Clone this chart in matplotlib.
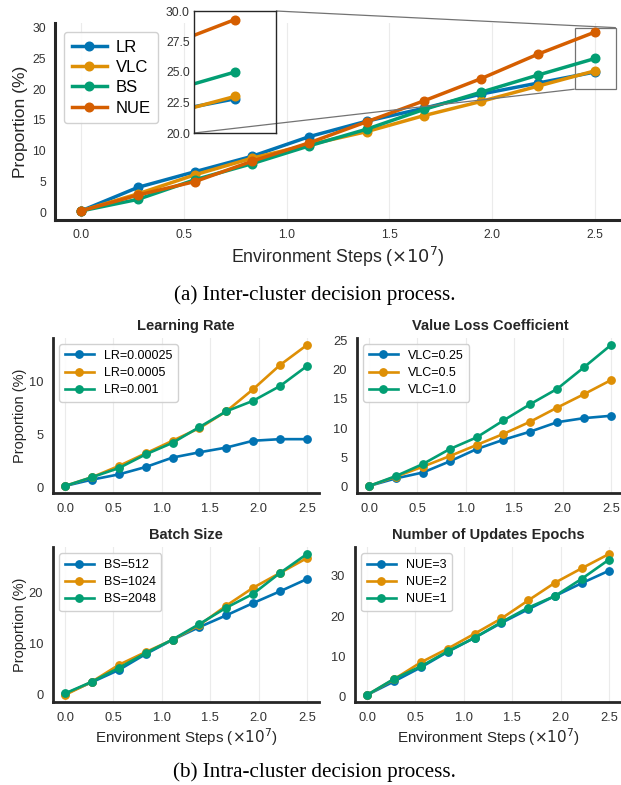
import matplotlib
matplotlib.use('Agg')
import matplotlib.pyplot as plt
import numpy as np
from mpl_toolkits.axes_grid1.inset_locator import mark_inset

plt.rcParams['font.family'] = ['Liberation Sans', 'DejaVu Sans']

# ---- data ----
steps = [0.0, 0.278, 0.556, 0.833, 1.111, 1.389, 1.667, 1.944, 2.222, 2.5]

# (a) inter-cluster
inter_lr  = [0.2, 4.05, 6.6, 9.1, 12.3, 14.8, 16.9, 19.2, 21.0, 22.8]
inter_vlc = [0.2, 3.0, 6.1, 8.8, 11.0, 13.1, 15.7, 18.0, 20.5, 23.0]
inter_bs  = [0.2, 2.1, 5.3, 7.9, 10.8, 13.5, 16.7, 19.5, 22.3, 25.0]
inter_nue = [0.2, 2.8, 5.0, 8.3, 11.3, 14.7, 18.1, 21.7, 25.7, 29.3]
inter_names = ['LR', 'VLC', 'BS', 'NUE']

# (b) intra-cluster
lr_labels = ['LR=0.00025', 'LR=0.0005', 'LR=0.001']
lr_vals = [
    [0.1, 0.7, 1.2, 1.9, 2.8, 3.3, 3.75, 4.4, 4.55, 4.55],
    [0.1, 0.93, 2.0, 3.2, 4.4, 5.6, 7.2, 9.3, 11.6, 13.5],
    [0.1, 0.93, 1.8, 3.1, 4.2, 5.7, 7.2, 8.2, 9.6, 11.5],
]
vlc_labels = ['VLC=0.25', 'VLC=0.5', 'VLC=1.0']
vlc_vals = [
    [0.1, 1.4, 2.4, 4.3, 6.4, 8.0, 9.4, 11.0, 11.7, 12.1],
    [0.1, 1.7, 3.4, 5.2, 7.1, 9.0, 11.1, 13.5, 15.8, 18.2],
    [0.1, 1.8, 3.85, 6.4, 8.4, 11.3, 14.1, 16.7, 20.4, 24.2],
]
bs_labels = ['BS=512', 'BS=1024', 'BS=2048']
bs_vals = [
    [0.2, 2.5, 4.9, 8.0, 10.8, 13.3, 15.6, 18.0, 20.3, 22.7],
    [0.0, 2.6, 5.9, 8.4, 10.8, 13.7, 17.5, 21.0, 23.9, 26.8],
    [0.3, 2.6, 5.3, 8.2, 10.85, 13.9, 17.1, 19.8, 23.9, 27.6],
]
nue_labels = ['NUE=3', 'NUE=2', 'NUE=1']
nue_vals = [
    [0.4, 3.75, 7.25, 11.1, 14.6, 18.3, 21.7, 25.0, 28.2, 31.25],
    [0.4, 4.3, 8.5, 11.9, 15.6, 19.4, 23.9, 28.3, 31.9, 35.4],
    [0.4, 4.4, 7.5, 11.25, 14.6, 18.5, 22.1, 25.0, 29.3, 34.0],
]

colors = ['#0173b2', '#de8f05', '#029e73', '#d55e00']
W, H = 621, 785


def px_axes(fig, x0, y0, x1, y1):
    # pixel box (from top-left) -> figure axes
    return fig.add_axes([x0 / W, 1 - y1 / H, (x1 - x0) / W, (y1 - y0) / H])


def style(ax, lw=2.0, fs=8.7, pad=6.5):
    for s in ['top', 'right']:
        ax.spines[s].set_visible(False)
    for s in ['left', 'bottom']:
        ax.spines[s].set_linewidth(lw)
        ax.spines[s].set_color('#262626')
    ax.grid(axis='x', color='#ebebeb', lw=0.8)
    ax.set_axisbelow(True)
    ax.tick_params(length=0, labelsize=fs, colors='#333333', pad=pad)
    ax.set_xticks([0.0, 0.5, 1.0, 1.5, 2.0, 2.5])


fig = plt.figure(figsize=(W / 100, H / 100), dpi=100)

# ---------------- (a) ----------------
ax = px_axes(fig, 55, 23, 621, 220)
inter = [inter_lr, inter_vlc, inter_bs, inter_nue]
for ys, name, c in zip(inter, inter_names, colors):
    ax.plot(steps, ys, '-o', color=c, lw=2.5, ms=6.2, label=name)
style(ax, lw=2.2, fs=8.7, pad=6.5)
ax.set_yticks([0, 5, 10, 15, 20, 25, 30])
ax.set_ylabel('Proportion (%)', fontsize=12.5, labelpad=3, color='#262626')
ax.set_xlabel(r'Environment Steps ($\times 10^7$)', fontsize=12.8, labelpad=3,
              color='#262626')
ax.legend(loc='upper left', bbox_to_anchor=(0.016, 0.954), borderaxespad=0,
          fontsize=12, handlelength=2.15, handletextpad=0.5,
          edgecolor='#cccccc', framealpha=0.9, borderpad=0.45,
          labelspacing=0.32)

axins = px_axes(fig, 194, 11, 276, 133)
for ys, c in zip(inter, colors):
    axins.plot(steps, ys, '-o', color=c, lw=2.5, ms=6.2)
axins.set_xlim(2.4, 2.6)
axins.set_ylim(20, 30)
axins.set_xticks([])
axins.set_yticks([20.0, 22.5, 25.0, 27.5, 30.0])
axins.tick_params(length=0, labelsize=8.7, colors='#333333', pad=3)
for s in axins.spines.values():
    s.set_color('#262626')
    s.set_linewidth(1.0)
mark_inset(ax, axins, loc1=1, loc2=3, fc='none', ec='0.45', lw=0.9)

fig.text(0.507, 1 - 295 / H, '(a) Inter-cluster decision process.',
         ha='center', va='center', fontsize=15.2, family='Liberation Serif')

# ---------------- (b) ----------------
panels = [
    ('Learning Rate', lr_labels, lr_vals, (53, 338, 319, 493), [0, 5, 10]),
    ('Value Loss Coefficient', vlc_labels, vlc_vals, (357, 338, 623, 493), [0, 5, 10, 15, 20, 25]),
    ('Batch Size', bs_labels, bs_vals, (53, 547, 319, 702), [0, 10, 20]),
    ('Number of Updates Epochs', nue_labels, nue_vals, (355, 547, 621, 702), [0, 10, 20, 30]),
]
for i, (title, labels, vals, box, yt) in enumerate(panels):
    a = px_axes(fig, *box)
    for ys, lab, c in zip(vals, labels, colors):
        a.plot(steps, ys, '-o', color=c, lw=1.9, ms=5.3, label=lab)
    style(a, lw=2.0, fs=9.3, pad=7)
    a.set_yticks(yt)
    a.set_title(title, fontsize=10.5, fontweight='bold', color='#262626', pad=6)
    if i % 2 == 0:
        a.set_ylabel('Proportion (%)', fontsize=10.5, labelpad=1.5, color='#262626')
    if i >= 2:
        a.set_xlabel(r'Environment Steps ($\times 10^7$)', fontsize=10.9,
                     labelpad=2, color='#262626')
    a.legend(loc='upper left', fontsize=9, handlelength=2.3, handletextpad=0.8,
             edgecolor='#cccccc', framealpha=0.9, borderpad=0.45,
             labelspacing=0.42)

fig.text(0.507, 1 - 772 / H, '(b) Intra-cluster decision process.',
         ha='center', va='center', fontsize=15.2, family='Liberation Serif')

fig.savefig('out.png', dpi=100)
